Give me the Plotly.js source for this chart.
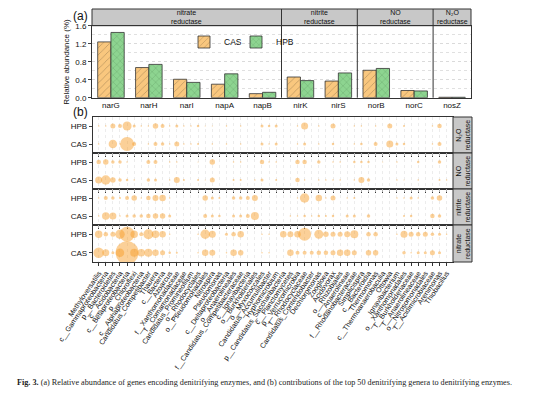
<!DOCTYPE html>
<html><head><meta charset="utf-8">
<script src="https://cdn.plot.ly/plotly-3.0.1.min.js"></script>
<style>html,body{margin:0;padding:0;background:#fff}#chart{width:554px;height:394px}</style>
</head><body><div id="chart"></div><script>
// ---------- Panel (a) data ----------
const genes = ['narG','narH','narI','napA','napB','nirK','nirS','norB','norC','nosZ'];
const casAbund = [1.24,0.67,0.41,0.30,0.09,0.46,0.37,0.61,0.16,0.01];
const hpbAbund = [1.45,0.74,0.34,0.53,0.12,0.38,0.55,0.65,0.15,0.01];
const enzymeGroups = ['nitrate<br>reductase','nitrite<br>reductase','NO<br>reductase','N\u2082O<br>reductase'];
const groupFirstGene = ['narG','nirK','norB','nosZ'];
const groupLastGene = ['napB','nirS','norC','nosZ'];
const yTicks = [0,0.4,0.8,1.2,1.6];

// ---------- Panel (b) data ----------
const genera = ['Methyloversatilis','c__Gammaproteobacteria','p__Bacteroidetes','c__Acidobacteria','c__Betaproteobacteria',
 'p__Chloroflexi','c__Alphaproteobacteria','Candidatus_Competibacter','Thauera','c__Bacteria',
 'Azoarcus','f__Xanthomonadaceae','f__Comamonadaceae','Candidatus_Promineofilum','o__Rhodocyclales',
 'o__Pseudomonadales','Nitrospira','Pseudomonas','c__Deltaproteobacteria','o__Anaerolineales',
 'f__Candidatus_Competibacteraceae','c__Ignavibacteria','o__Burkholderiales','o__Myxococcales','Candidatus_Accumulibacter',
 'Hyphomicrobium','p__Candidatus_Saccharibacteria','c__Planctomycetes','p__Verrucomicrobia','f__Rhodocyclaceae',
 'Candidatus_Contendobacter','Dechloromonas','Zoogloea','Acidovorax','o__Rhizobiales',
 'c__Anaerolineae','f__Rhodanobacteraceae','Simplicispira','c__Bacteroidia','Thermomonas',
 'c__Thermoanaerobaculia','Ottowia','Ignavibacterium','o__Xanthomonadales','f__Burkholderiaceae',
 'f__Anaerolineaceae','o__Nitrosomonadales','f__Acidimicrobiaceae','Arenimonas','Thiobacillus'];
const samples = ['CAS','HPB'];
const panelNames = ['N\u2082O<br>reductase','NO<br>reductase','nitrite<br>reductase','nitrate<br>reductase'];
const n2oHPB = [1.5,1.5,5,4,9,3,1.5,1.5,5.5,4, 1.5,3,1.5,1.5,2.5,1,1,0,1.5,0, 1.5,0,0,3,2.5,3,0,0,1.5,7, 0,1.5,0,5,0,0,1.5,1.5,0,1.5, 0,5,0,2,0,0,0,1.5,4.5,0];
const n2oCAS = [1.5,0,8.5,1.5,14,4,0,1.5,4,3.5, 1.5,5,1.5,1.5,2,0,1.5,0,1.5,0, 1.5,0,0,3,1.5,3,0,0,1.5,3, 0,1.5,0,2.5,0,0,1.5,2.5,0,4, 0,7,3,2.5,0,0,0,1.5,4,0];
const noHPB = [4.5,5.5,3.5,3.5,1.5,0,0,4,4,0, 1.5,1.5,0,0,1,0,5.5,0,0,1.5, 1.5,0,0,4.5,1.5,1.5,0,0,4.5,4.5, 0,3.5,0,1.5,1.5,0,2.5,2.5,2.5,0, 1,0,1.5,0,0,2.5,0,0,3.5,0];
const noCAS = [7,9.5,5.5,3.5,2.5,1.5,0,3.5,3,0, 1.5,6,2,0,2,1,5,0,0,2, 2,0,1.5,3,0,2,0,0,4.5,1.5, 0,1.5,1.5,1.5,1.5,0,1.5,6,3.5,0, 0,0,1.5,1,0,1.5,0,0,2,1.5];
const nitriteHPB = [1.5,4,3.5,2,4,5.5,1.5,4.5,6,6.5, 1.5,0,0,0,0,5.5,3,2,0,3.5, 3.5,4,6,0,0,0,0,0,1.5,9.5, 0,6.5,1.5,5,0,1.5,2,0,0,0, 0,0,1.5,1.5,3,1.5,0,3.5,5.5,0];
const nitriteCAS = [1.5,7.5,7,1.5,3,3.5,3.5,4.5,5.5,5.5, 3,0,0,0,0,4,3,2.5,0,3, 3,4,8,0,0,0,0,1.5,1.5,2.5, 1.5,2.5,2,2.5,0,3,3,0,3.5,0, 0,0,0,2,2.5,0,0,4.5,3.5,0];
const nitrateHPB = [7.5,4.5,5,9.5,15,7.5,4,10,7.5,6.5, 1.5,0,0,0,1.5,9.5,7,0,3,4.5, 6.5,0,0,1.5,1.5,0,6.5,6,6.5,13, 0,9,5.5,5,5,6,8,0,4.5,4.5, 0,0,1.5,7,5,4.5,5,3.5,3,1.5];
const nitrateCAS = [10.5,7,3,8.5,23,8,7.5,8,6.5,5, 2.5,2,0,0,1.5,6.5,6,0,1.5,6.5, 5.5,0,0,1.5,1.5,0,0,6.5,4,4, 4,4.5,4.5,5,6.5,6.5,5,0,5.5,5.5, 0,0,0,3.5,1.5,3,3,5,3,0];

const caption = '<b>Fig. 3.</b> (a) Relative abundance of genes encoding denitrifying enzymes, and (b) contributions of the top 50 denitrifying genera to denitrifying enzymes.';

// ---------- build ----------
const W = 554, H = 394;
const px = v => v / W, py = v => 1 - v / H;
const FONT = 'Arial, "Liberation Sans", sans-serif';
const traces = [];
traces.push({type:'bar', name:'CAS', x:genes, y:casAbund, xaxis:'x', yaxis:'y', legend:'legend',
  marker:{color:'#F9C77E', line:{color:'#333', width:0.8},
    pattern:{shape:'/', fillmode:'overlay', fgcolor:'#5a4a30', size:5, solidity:0.12}}});
traces.push({type:'bar', name:'HPB', x:genes, y:hpbAbund, xaxis:'x', yaxis:'y', legend:'legend2',
  marker:{color:'#8DD490', line:{color:'#333', width:0.8},
    pattern:{shape:'x', fillmode:'overlay', fgcolor:'#2e6034', size:5, solidity:0.12}}});

const rows = [[n2oCAS,n2oHPB],[noCAS,noHPB],[nitriteCAS,nitriteHPB],[nitrateCAS,nitrateHPB]];
const subTop = [117,153,189,225], subBot = [153,189,225,262];
const legBase = {orientation:'h', y:py(42), xanchor:'left', yanchor:'middle', font:{size:8.5}, bgcolor:'rgba(0,0,0,0)', itemwidth:30};
const layout = {
  width:W, height:H, margin:{l:0,r:0,t:0,b:0}, paper_bgcolor:'#fff', plot_bgcolor:'#fff',
  font:{family:FONT, color:'#111'}, showlegend:true, barmode:'group', bargap:0.3, bargroupgap:0,
  legend:Object.assign({x:px(184)}, legBase),
  legend2:Object.assign({x:px(236)}, legBase),
  xaxis:{domain:[px(92),px(471)], anchor:'y', type:'category', showline:true, mirror:true, linecolor:'#333', linewidth:1,
    ticks:'', tickfont:{size:8}, range:[-0.5,9.5]},
  yaxis:{domain:[py(97.7),py(25.7)], anchor:'x', range:[0,1.6], tickvals:yTicks, ticktext:yTicks.map(v=>v.toFixed(1)),
    showline:true, mirror:true, linecolor:'#333', linewidth:1, ticks:'outside', ticklen:3, tickfont:{size:8},
    showgrid:true, gridcolor:'#d8d8d8', griddash:'dot', gridwidth:0.8, zeroline:false,
    minor:{dtick:0.2, showgrid:true, gridcolor:'#d8d8d8', griddash:'dot', gridwidth:0.8, ticks:''}},
  shapes:[], annotations:[]
};
const ann = o => layout.annotations.push(Object.assign({showarrow:false, xanchor:'center', yanchor:'middle'}, o));
// header strip of panel (a)
layout.shapes.push({type:'rect', xref:'paper', yref:'paper', x0:px(92), x1:px(471), y0:py(25.7), y1:py(9), fillcolor:'#c8c8c8', line:{color:'#333', width:1}, layer:'below'});
enzymeGroups.forEach((g,k)=>{
  const a = genes.indexOf(groupFirstGene[k]), b = genes.indexOf(groupLastGene[k]);
  ann({xref:'x', yref:'paper', x:(a+b)/2, y:py(17.3), text:g, font:{size:7}, align:'center'});
  if (k>0) layout.shapes.push({type:'line', xref:'x', yref:'paper', x0:a-0.5, x1:a-0.5, y0:py(97.7), y1:py(9), line:{color:'#333', width:1}});
});
ann({xref:'paper', yref:'paper', x:px(67), y:py(61.7), text:'Relative abundance (%)', textangle:-90, font:{size:8}});
ann({xref:'paper', yref:'paper', x:px(80), y:py(16), text:'(a)', font:{size:12}});
ann({xref:'paper', yref:'paper', x:px(80), y:py(112), text:'(b)', font:{size:12}});

rows.forEach((pair,k)=>{
  const n = k+2, xa = 'x'+n, ya = 'y'+n;
  const xs=[], ys=[], ss=[];
  pair.forEach((vals,s)=>{ vals.forEach((v,i)=>{ if(v>0){ xs.push(i); ys.push(samples[s]); ss.push(v); } }); });
  traces.push({type:'scatter', mode:'markers', x:xs, y:ys, xaxis:xa, yaxis:ya, showlegend:false, hoverinfo:'skip',
    marker:{size:ss, sizemode:'diameter', color:'rgba(247,156,38,0.68)', line:{width:0}}});
  const last = (k===3);
  layout['xaxis'+n] = {domain:[px(93),px(453)], anchor:ya, range:[-0.8,49.9], tickvals:genera.map((_,i)=>i),
    ticktext: genera, showticklabels:last, tickangle:-56, tickfont:{size:7.2}, ticks:'outside', ticklen:3, tickcolor:'#333',
    showline:true, mirror:true, linecolor:'#333', linewidth:1.2, showgrid:true, gridcolor:'#e4e4e4', griddash:'dot', gridwidth:0.7, zeroline:false};
  layout['yaxis'+n] = {domain:[py(subBot[k]),py(subTop[k])], anchor:xa, type:'category', categoryorder:'array', categoryarray:samples,
    range:[-0.5,1.5], ticks:'outside', ticklen:3, tickfont:{size:8}, showline:true, mirror:true, linecolor:'#333', linewidth:1.2, showgrid:false, zeroline:false};
  layout.shapes.push({type:'rect', xref:'paper', yref:'paper', x0:px(453), x1:px(472), y0:py(subBot[k]), y1:py(subTop[k]), fillcolor:'#c8c8c8', line:{color:'#333', width:1}});
  ann({xref:'paper', yref:'paper', x:px(462.5), y:py((subTop[k]+subBot[k])/2), text:panelNames[k], textangle:-90, font:{size:7}});
});
ann({xref:'paper', yref:'paper', x:px(15), y:py(382), xanchor:'left', text:caption,
  font:{size:8.2, family:'"Liberation Serif", "DejaVu Serif", serif', color:'#222'}});

Plotly.newPlot('chart', traces, layout, {staticPlot:true});
</script></body></html>
